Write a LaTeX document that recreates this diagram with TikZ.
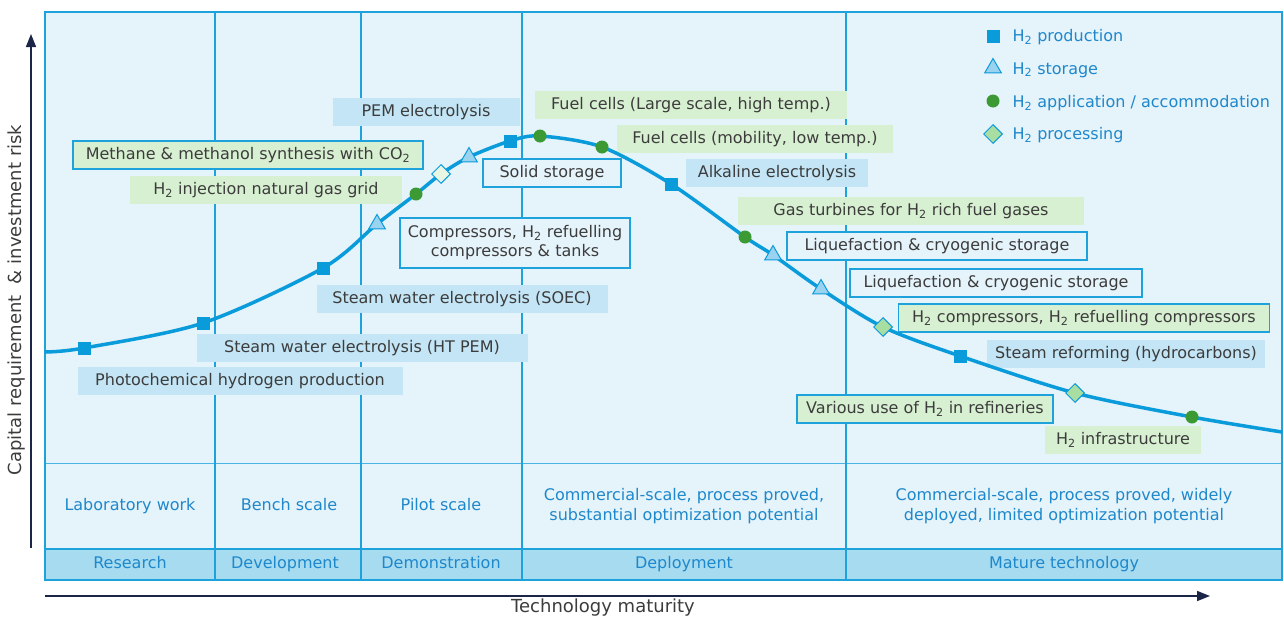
\documentclass[tikz,border=0pt]{standalone}
\usepackage{fontspec}
\setmainfont{DejaVu Sans}
\usetikzlibrary{shapes.geometric,arrows.meta}
\definecolor{bgblue}{HTML}{E5F3FB}
\definecolor{lineblue}{HTML}{1DA2DC}
\definecolor{stripblue}{HTML}{A6DBF0}
\definecolor{markblue}{HTML}{0A9BDB}
\definecolor{prodfill}{HTML}{C3E5F5}
\definecolor{applfill}{HTML}{D8F0D2}
\definecolor{trifill}{HTML}{9AD3F0}
\definecolor{diafill}{HTML}{A9DEA3}
\definecolor{markgreen}{HTML}{3C9A35}
\definecolor{labeltxt}{HTML}{3C3C3C}
\definecolor{bluetxt}{HTML}{1E88CB}
\definecolor{axisnavy}{HTML}{1B2548}
\newcommand{\htwo}{H\textsubscript{2}}
\tikzset{
  lbl/.style={font=\fontsize{16}{19}\selectfont, text=labeltxt, minimum height=28pt, inner xsep=6pt, inner ysep=2pt},
  prodbox/.style={lbl, fill=prodfill},
  storbox/.style={lbl, fill=bgblue, draw=lineblue, line width=1.3pt},
  applbox/.style={lbl, fill=applfill},
  procbox/.style={lbl, fill=applfill, draw=lineblue, line width=1.3pt},
  sq/.style={rectangle, fill=markblue, minimum size=13pt, inner sep=0pt},
  tri/.style={regular polygon, regular polygon sides=3, fill=trifill, draw=markblue, line width=1pt, minimum size=19pt, inner sep=0pt},
  dot/.style={circle, fill=markgreen, minimum size=13pt, inner sep=0pt},
  dia/.style={diamond, aspect=1, fill=diafill, draw=markblue, line width=1pt, minimum size=19pt, inner sep=0pt},
  stage/.style={font=\fontsize{16}{20}\selectfont, text=bluetxt, align=center},
  phase/.style={stage, text height=12pt, text depth=4pt},
  legtxt/.style={font=\fontsize{16}{19}\selectfont, text=bluetxt, anchor=west},
  axlab/.style={font=\fontsize{18}{21}\selectfont, text=labeltxt}
}
\begin{document}
\begin{tikzpicture}[x=1pt,y=-1pt]
\useasboundingbox (0,0) rectangle (1284,619);
\draw[lineblue, fill=bgblue, line width=1.5pt] (45,12) rectangle (1282,580);
\fill[stripblue] (45,549) rectangle (1282,580);
\draw[lineblue, line width=1.5pt] (45,549) -- (1282,549);
\draw[lineblue!80, line width=1pt] (45,463) -- (1282,463);
\foreach \xx in {215,361,522,846}
  \draw[lineblue, line width=1.5pt] (\xx,12) -- (\xx,580);
\draw[lineblue, line width=1.5pt] (45,12) rectangle (1282,580);

\coordinate (ya) at (31,548);
\coordinate (yb) at (31,34);
\coordinate (xa) at (45,596);
\coordinate (xb) at (1210,596);
\draw[axisnavy, line width=1.5pt, -{Triangle[length=13pt,width=10pt]}] (ya) -- (yb);
\draw[axisnavy, line width=1.5pt, -{Triangle[length=13pt,width=10pt]}] (xa) -- (xb);
\node[axlab, rotate=90] (ylab) at (17,300) {Capital requirement \ \& investment risk};
\node[axlab] (xlab) at (603,608) {Technology maturity};

\node[phase] (s1) at (130,506) {Laboratory work};
\node[phase] (s2) at (289,506) {Bench scale};
\node[phase] (s3) at (441,506) {Pilot scale};
\node[stage] (s4) at (684,506) {Commercial-scale, process proved,\\substantial optimization potential};
\node[stage] (s5) at (1064,506) {Commercial-scale, process proved, widely\\deployed, limited optimization potential};
\node[phase] (r1) at (130,564) {Research};
\node[phase] (r2) at (285,564) {Development};
\node[phase] (r3) at (441,564) {Demonstration};
\node[phase] (r4) at (684,564) {Deployment};
\node[phase] (r5) at (1064,564) {Mature technology};

\node[prodbox, minimum width=187pt] (pem) at (426,112) {PEM electrolysis};
\node[procbox, minimum width=350pt] (meth) at (248,155) {Methane \& methanol synthesis with CO\textsubscript{2}};
\node[applbox, minimum width=272pt] (inj) at (266,190) {\htwo{} injection natural gas grid};
\node[storbox, minimum width=138pt] (solid) at (552,173) {Solid storage};
\node[storbox, align=center, minimum width=230pt, minimum height=50pt] (comp) at (515,243) {Compressors, \htwo{} refuelling\\compressors \& tanks};
\node[prodbox, minimum width=291pt] (soec) at (462,299) {Steam water electrolysis (SOEC)};
\node[prodbox, minimum width=331pt] (htpem) at (362,348) {Steam water electrolysis (HT PEM)};
\node[prodbox, minimum width=325pt] (photo) at (240,381) {Photochemical hydrogen production};
\node[applbox, minimum width=312pt] (fclarge) at (691,105) {Fuel cells (Large scale, high temp.)};
\node[applbox, minimum width=276pt] (fcmob) at (755,139) {Fuel cells (mobility, low temp.)};
\node[prodbox, minimum width=182pt] (alk) at (777,173) {Alkaline electrolysis};
\node[applbox, minimum width=346pt] (gast) at (911,211) {Gas turbines for \htwo{} rich fuel gases};
\node[storbox, minimum width=300pt] (liq1) at (937,246) {Liquefaction \& cryogenic storage};
\node[storbox, minimum width=292pt] (liq2) at (996,283) {Liquefaction \& cryogenic storage};
\node[procbox, minimum width=371pt] (h2comp) at (1084,318) {\htwo{} compressors, \htwo{} refuelling compressors};
\node[prodbox, minimum width=278pt] (steamref) at (1126,354) {Steam reforming (hydrocarbons)};
\node[procbox, minimum width=256pt] (refin) at (925,409) {Various use of \htwo{} in refineries};
\node[applbox, minimum width=156pt] (infra) at (1123,440) {\htwo{} infrastructure};

\coordinate (p0) at (45,352);
\coordinate (p1) at (84,348);
\coordinate (p2) at (203,323);
\coordinate (p3) at (323,268);
\coordinate (p4) at (377,224);
\coordinate (p5) at (416,194);
\coordinate (p6) at (441,174);
\coordinate (p7) at (469,157);
\coordinate (p8) at (510,141);
\coordinate (p9) at (540,136);
\coordinate (p10) at (602,147);
\coordinate (p11) at (671,184);
\coordinate (p12) at (745,237);
\coordinate (p13) at (773,255);
\coordinate (p14) at (821,289);
\coordinate (p15) at (883,327);
\coordinate (p16) at (960,356);
\coordinate (p17) at (1075,393);
\coordinate (p18) at (1192,417);
\coordinate (p19) at (1282,432);
\draw[markblue, line width=3.5pt] plot[smooth, tension=0.5] coordinates {(p0) (p1) (p2) (p3) (p4) (p5) (p6) (p7) (p8) (p9) (p10) (p11) (p12) (p13) (p14) (p15) (p16) (p17) (p18) (p19)};

\node[sq] (m1) at (p1) {};
\node[sq] (m2) at (p2) {};
\node[sq] (m3) at (p3) {};
\node[tri] (m4) at (p4) {};
\node[dot] (m5) at (p5) {};
\node[dia, fill=applfill!60] (m6) at (p6) {};
\node[tri] (m7) at (p7) {};
\node[sq] (m8) at (p8) {};
\node[dot] (m9) at (p9) {};
\node[dot] (m10) at (p10) {};
\node[sq] (m11) at (p11) {};
\node[dot] (m12) at (p12) {};
\node[tri] (m13) at (p13) {};
\node[tri] (m14) at (p14) {};
\node[dia] (m15) at (p15) {};
\node[sq] (m16) at (p16) {};
\node[dia] (m17) at (p17) {};
\node[dot] (m18) at (p18) {};

\node[sq] (lg1) at (993,36) {};
\node[tri] (lg2) at (993,68) {};
\node[dot] (lg3) at (993,101) {};
\node[dia] (lg4) at (993,134) {};
\node[legtxt] (lt1) at (1009,37) {\htwo{} production};
\node[legtxt] (lt2) at (1009,70) {\htwo{} storage};
\node[legtxt] (lt3) at (1009,103) {\htwo{} application / accommodation};
\node[legtxt] (lt4) at (1009,135) {\htwo{} processing};
\end{tikzpicture}
\end{document}
